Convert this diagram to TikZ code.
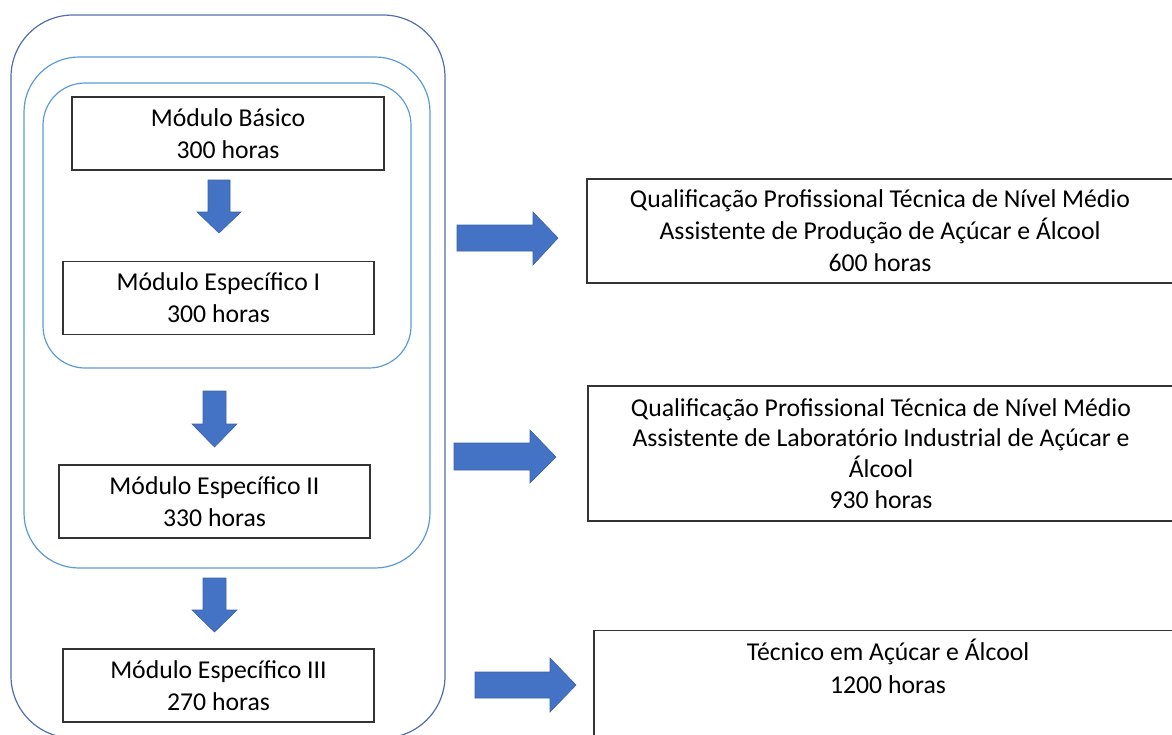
\documentclass[tikz,border=0pt]{standalone}
\usepackage{fontspec}
\setmainfont{Carlito}
\definecolor{outerblue}{RGB}{80,110,172}
\definecolor{innerblue}{RGB}{91,155,213}
\definecolor{arrowblue}{RGB}{68,114,196}
\tikzset{
  modbox/.style={draw=black!80, line width=1.2pt, inner sep=0pt, align=center,
    minimum width=311, minimum height=73, font=\fontsize{25.7}{32}\selectfont},
  qualbox/.style={draw=black!80, line width=1.2pt, inner sep=0pt, align=center,
    minimum width=586, font=\fontsize{25.7}{32}\selectfont},
  blockarr/.style={fill=arrowblue, draw=arrowblue!85!black, line width=0.6pt},
}
\begin{document}
\begin{tikzpicture}[x=1pt,y=-1pt]
\useasboundingbox (0,0) rectangle (1172,734);
\clip (0,0) rectangle (1172,734);

% groups of modules
\draw[outerblue, line width=1.2pt, rounded corners=62] (11,15) rectangle (445,738);
\draw[innerblue, line width=1.2pt, rounded corners=55] (24,57) rectangle (430,568);
\draw[innerblue, line width=1.2pt, rounded corners=42] (43,83) rectangle (411,368);

% modules
\node[modbox, minimum width=312] (basico) at (228,133.5) {Módulo Básico\\300 horas};
\node[modbox] (espI) at (218.5,298) {Módulo Específico I\\300 horas};
\node[modbox] (espII) at (214.5,501.5) {Módulo Específico II\\330 horas};
\node[modbox] (espIII) at (218.5,685.5) {Módulo Específico III\\270 horas};

% qualifications
\node[qualbox, minimum height=104] (qualA) at (880,231) {Qualificação Profissional Técnica de Nível Médio\\Assistente de Produção de Açúcar e Álcool\\600 horas};
\node[qualbox, minimum height=135, font=\fontsize{25.7}{30.7}\selectfont] (qualB) at (881,453.5) {Qualificação Profissional Técnica de Nível Médio\\Assistente de Laboratório Industrial de Açúcar e\\Álcool\\930 horas};
\node[qualbox, minimum width=588, anchor=north, inner ysep=0pt, text height=63pt, text depth=120pt,
  font=\fontsize{25.7}{33}\selectfont] (tecnico) at (888,630) {Técnico em Açúcar e Álcool\\1200 horas};

% down arrows
\filldraw[blockarr] (208,180) -- ++(22,0) -- ++(0,32) -- ++(11,0) -- ++(-22,21) -- ++(-22,-21) -- ++(11,0) -- cycle;
\filldraw[blockarr] (203,391) -- ++(23,0) -- ++(0,33) -- ++(11,0) -- ++(-22.5,23) -- ++(-22.5,-23) -- ++(11,0) -- cycle;
\filldraw[blockarr] (203,578) -- ++(23,0) -- ++(0,32) -- ++(11,0) -- ++(-22.5,22) -- ++(-22.5,-22) -- ++(11,0) -- cycle;

% right arrows
\filldraw[blockarr] (457,225) -- ++(76,0) -- ++(0,-13) -- ++(25,26) -- ++(-25,27) -- ++(0,-14) -- ++(-76,0) -- cycle;
\filldraw[blockarr] (454,443) -- ++(76,0) -- ++(0,-13) -- ++(26,27) -- ++(-26,26) -- ++(0,-13) -- ++(-76,0) -- cycle;
\filldraw[blockarr] (475,672) -- ++(75,0) -- ++(0,-14) -- ++(26,27) -- ++(-26,27) -- ++(0,-14) -- ++(-75,0) -- cycle;
\end{tikzpicture}
\end{document}
